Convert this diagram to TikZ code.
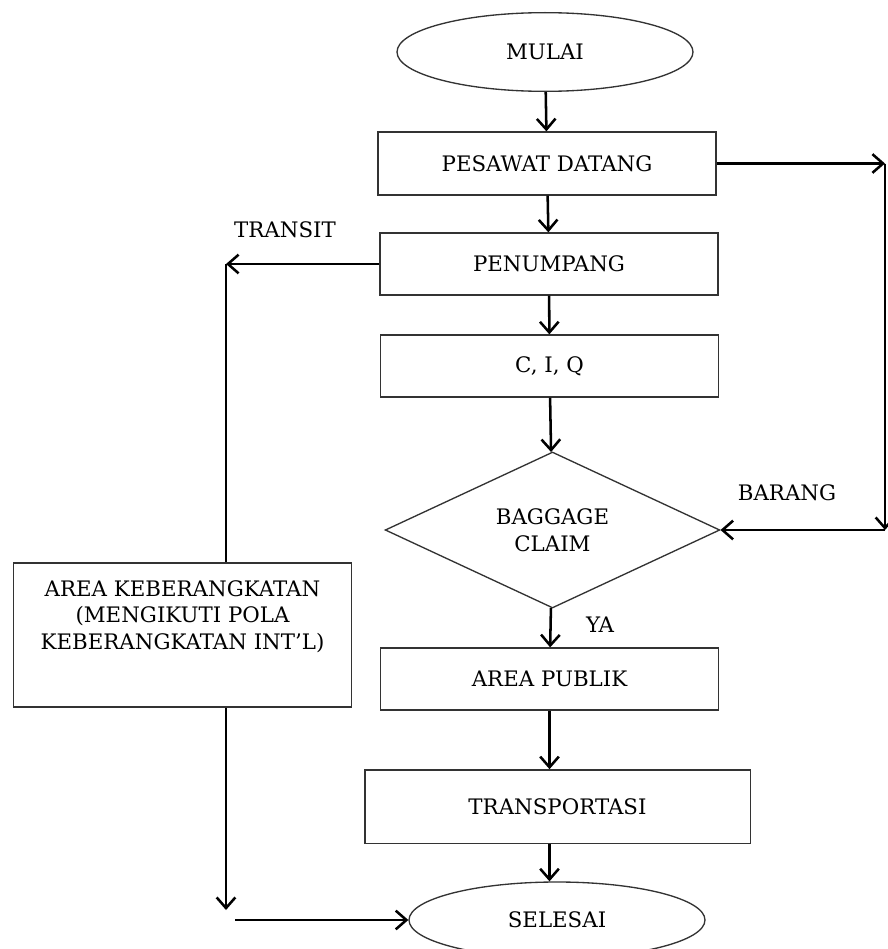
\documentclass[tikz,border=0pt]{standalone}
\usepackage{fontspec}
\setmainfont{DejaVu Serif}
\usetikzlibrary{shapes.geometric}
\usetikzlibrary{arrows.meta}
\usetikzlibrary{positioning}

\tikzset{
  huruf/.style={font=\fontsize{16}{20}\selectfont},
  kotak/.style={huruf, draw=black!80, line width=1pt, rectangle, inner sep=0pt, align=center, minimum width=253.5pt, minimum height=46.5pt},
  oval/.style={huruf, draw=black!80, line width=1pt, ellipse, inner sep=0pt, minimum width=222pt},
  pilihan/.style={huruf, draw=black!80, line width=1pt, diamond, aspect=2.15, inner sep=0pt, align=center, minimum width=251pt, minimum height=117pt},
  panah/.style={line width=1.9pt, -{Straight Barb[length=8pt,width=14pt]}},
  garis/.style={line width=1.9pt}
}

\begin{document}
\begin{tikzpicture}[x=0.75pt,y=0.75pt,yscale=-1,xscale=1]
\path[use as bounding box] (0,0) rectangle (888,949);

% Flow nodes
\node[oval, minimum height=59pt] (mulai) at (545,52) {MULAI};
\node[kotak, minimum height=47.25pt] (datang) at (547,163.5) {PESAWAT DATANG};
\node[kotak] (penumpang) at (549,264) {PENUMPANG};
\node[kotak] (ciq) at (549.5,366) {C, I, Q};
\node[pilihan] (claim) at (552.5,530) {BAGGAGE\\CLAIM};
\node[kotak] (publik) at (549.5,679) {AREA PUBLIK};
\node[kotak, minimum width=289pt, minimum height=55pt] (transport) at (557.5,806.5) {TRANSPORTASI};
\node[oval, minimum height=57pt] (selesai) at (557,920) {SELESAI};
\node[kotak, minimum height=108pt] (berangkat) at (182.5,635) {};
\node[huruf, align=center, below=10pt of berangkat.north] (berangkatteks) {AREA KEBERANGKATAN\\(MENGIKUTI POLA\\KEBERANGKATAN INT'L)};

% Corner points
\coordinate (kanan) at (885,163.5);
\coordinate (kananbawah) at (885,530);
\coordinate (kiri) at (226,264);
\coordinate (kiribawah) at (226,910);
\coordinate (masuk) at (235,920);

% Main column
\draw[panah] (mulai) -- (datang);
\draw[panah] (datang) -- (penumpang);
\draw[panah] (penumpang) -- (ciq);
\draw[panah] (ciq) -- (claim);
\draw[panah] (claim) -- (publik);
\draw[panah] (publik.south) -- (publik.south |- transport.north);
\draw[panah] (publik.south |- transport.south) -- (publik.south |- selesai.north);

% Barang
\draw[panah] (datang.east) -- (kanan);
\draw[panah] (kanan) -- (kananbawah);
\draw[panah] (kananbawah) -- (claim.east);

% Transit
\draw[panah] (penumpang.west) -- (kiri);
\draw[garis] (kiri) -- (kiri |- berangkat.north);
\draw[panah] (kiri |- berangkat.south) -- (kiribawah);
\draw[panah] (masuk) -- (selesai.west);

% Text Node
\node[huruf] (transit) at (285,230) {TRANSIT};
% Text Node
\node[huruf] (barang) at (787,493) {BARANG};
% Text Node
\node[huruf] (ya) at (600,625) {YA};

\end{tikzpicture}
\end{document}
